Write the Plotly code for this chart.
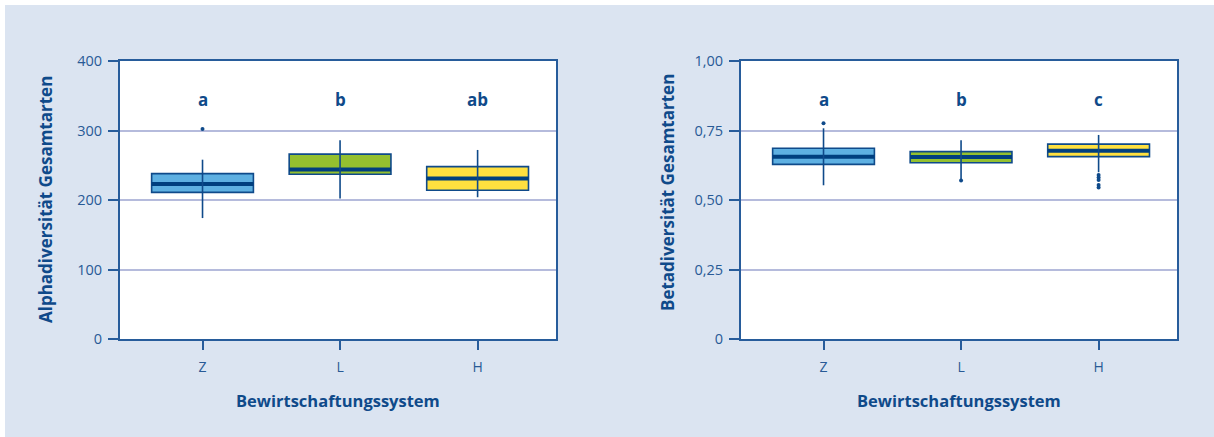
import plotly.graph_objects as go

# Management systems
categories = ["Z", "L", "H"]
box_colors = ["#5eb0e2", "#94c02f", "#ffe03f"]

# Alpha diversity (total species)
alpha_low = [174, 202, 204]
alpha_q1 = [211, 237, 214]
alpha_median = [223, 244, 231]
alpha_q3 = [238, 266, 248]
alpha_high = [258, 286, 272]
alpha_outliers = [[302], [], []]
alpha_letters = ["a", "b", "ab"]

# Beta diversity (total species)
beta_low = [0.553, 0.575, 0.600]
beta_q1 = [0.628, 0.634, 0.656]
beta_median = [0.656, 0.655, 0.677]
beta_q3 = [0.686, 0.674, 0.701]
beta_high = [0.758, 0.715, 0.734]
beta_outliers = [[0.776], [0.570], [0.590, 0.581, 0.572, 0.554, 0.545]]
beta_letters = ["a", "b", "c"]

W, H = 1214, 437
DARK = "#0f4a8a"
AXIS = "#275c9b"
GRID = "#b5bbdc"
TICKTXT = "#285a96"
PANEL_BG = "#dbe4f1"
FONT = "Open Sans"
BOX_W = 0.74

fig = go.Figure()


def add_panel(xa, ya, low, q1, med, q3, high, outliers, letters, letter_y):
    for i, cat in enumerate(categories):
        fig.add_trace(go.Box(
            x=[i], q1=[q1[i]], median=[med[i]], q3=[q3[i]],
            lowerfence=[q1[i]], upperfence=[q3[i]],
            width=BOX_W, fillcolor=box_colors[i],
            line=dict(color=DARK, width=1.6), whiskerwidth=0,
            boxpoints=False, showlegend=False, hoverinfo="skip",
            xaxis=xa, yaxis=ya,
        ))
        # thick median bar
        fig.add_trace(go.Scatter(
            x=[i - BOX_W / 2, i + BOX_W / 2], y=[med[i], med[i]],
            mode="lines", line=dict(color="#003f7f", width=4),
            showlegend=False, hoverinfo="skip", xaxis=xa, yaxis=ya,
        ))
        # whisker line through the box
        fig.add_trace(go.Scatter(
            x=[i, i], y=[low[i], high[i]],
            mode="lines", line=dict(color=DARK, width=1.6),
            showlegend=False, hoverinfo="skip", xaxis=xa, yaxis=ya,
        ))
        if outliers[i]:
            fig.add_trace(go.Scatter(
                x=[i] * len(outliers[i]), y=outliers[i],
                mode="markers", marker=dict(color=DARK, size=4),
                showlegend=False, hoverinfo="skip", xaxis=xa, yaxis=ya,
            ))
        fig.add_annotation(
            x=i, y=letter_y, xref=xa, yref=ya, text=f"<b>{letters[i]}</b>",
            showarrow=False, font=dict(family=FONT, size=17, color=DARK),
        )


add_panel("x", "y", alpha_low, alpha_q1, alpha_median, alpha_q3, alpha_high,
          alpha_outliers, alpha_letters, 344)
add_panel("x2", "y2", beta_low, beta_q1, beta_median, beta_q3, beta_high,
          beta_outliers, beta_letters, 0.86)

y_dom = [1 - 339 / H, 1 - 61 / H]
left_dom = [120 / W, 556 / W]
right_dom = [741 / W, 1177 / W]

xaxis_common = dict(
    range=[-0.6, 2.57], tickvals=[0, 1, 2], ticktext=categories,
    showline=True, linecolor=AXIS, linewidth=2, mirror=True,
    ticks="outside", ticklen=9, tickwidth=2, tickcolor=AXIS,
    ticklabelstandoff=5,
    showgrid=False, zeroline=False, automargin=False,
    tickfont=dict(family=FONT, size=14, color=TICKTXT),
)
yaxis_common = dict(
    showline=True, linecolor=AXIS, linewidth=2, mirror=True,
    ticks="outside", ticklen=10, tickwidth=2, tickcolor=AXIS,
    ticklabelstandoff=3,
    showgrid=True, gridcolor=GRID, gridwidth=1.5, zeroline=False,
    automargin=False,
    tickfont=dict(family=FONT, size=14.5, color=TICKTXT),
)

fig.update_layout(
    width=W, height=H,
    margin=dict(l=0, r=0, t=0, b=0),
    paper_bgcolor=PANEL_BG,
    plot_bgcolor="white",
    xaxis=dict(domain=left_dom, anchor="y", **xaxis_common),
    yaxis=dict(domain=y_dom, anchor="x", range=[0, 400],
               tickvals=[0, 100, 200, 300, 400], **yaxis_common),
    xaxis2=dict(domain=right_dom, anchor="y2", **xaxis_common),
    yaxis2=dict(domain=y_dom, anchor="x2", range=[0, 1],
                tickvals=[0, 0.25, 0.5, 0.75, 1.0],
                ticktext=["0", "0,25", "0,50", "0,75", "1,00"], **yaxis_common),
    # thin white frame along the top and left edges of the page
    shapes=[
        dict(type="rect", xref="paper", yref="paper",
             x0=0, x1=1, y0=1 - 5 / H, y1=1,
             fillcolor="white", line=dict(width=0), layer="below"),
        dict(type="rect", xref="paper", yref="paper",
             x0=0, x1=5 / W, y0=0, y1=1,
             fillcolor="white", line=dict(width=0), layer="below"),
    ],
)

# axis titles
for xc, text in [((120 + 556) / 2, "Bewirtschaftungssystem"),
                 ((741 + 1177) / 2, "Bewirtschaftungssystem")]:
    fig.add_annotation(x=xc / W, y=1 - 400 / H, xref="paper", yref="paper",
                       xanchor="center", yanchor="middle",
                       text=f"<b>{text}</b>", showarrow=False,
                       font=dict(family=FONT, size=16.5, color=DARK))
for xc, yc, text in [(45, 200, "Alphadiversität Gesamtarten"),
                     (667, 193, "Betadiversität Gesamtarten")]:
    fig.add_annotation(x=xc / W, y=1 - yc / H, xref="paper", yref="paper",
                       xanchor="center", yanchor="middle",
                       text=f"<b>{text}</b>", showarrow=False, textangle=-90,
                       font=dict(family=FONT, size=17, color=DARK))

fig.write_html("out.html")
